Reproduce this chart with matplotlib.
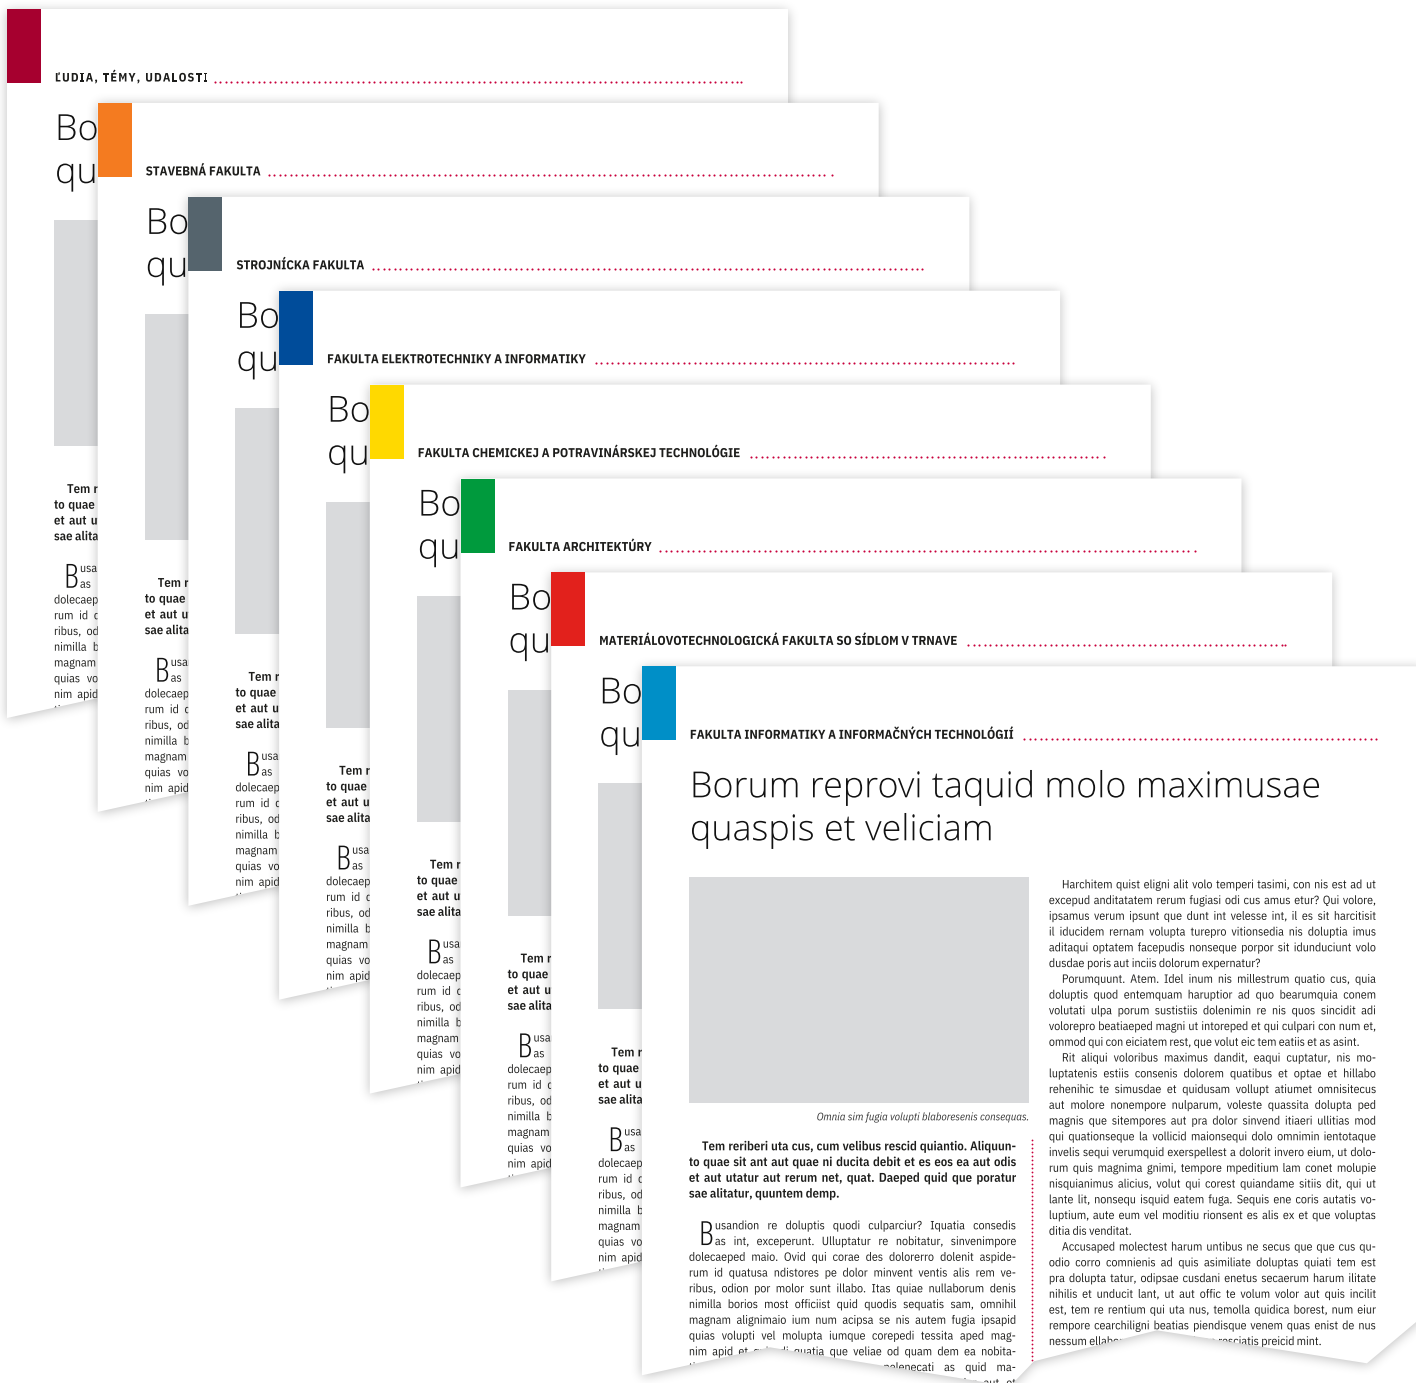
import numpy as np
import matplotlib
matplotlib.use("Agg")
import matplotlib.pyplot as plt
from matplotlib import patheffects as pe
from matplotlib.patches import Polygon, Rectangle
from matplotlib.font_manager import FontProperties
from matplotlib.path import Path

# rozmer obrazka v pixeloch
W, H = 1416, 1383

# farby a hlavicky jednotlivych fakult (od zadnej strany po prednu)
farby = ['#a6002f', '#f47b20', '#55646d', '#004c9a',
         '#ffd900', '#009a3d', '#e2211c', '#008fc7']
hlavicky = ['ĽUDIA, TÉMY, UDALOSTI',
            'STAVEBNÁ FAKULTA',
            'STROJNÍCKA FAKULTA',
            'FAKULTA ELEKTROTECHNIKY A INFORMATIKY',
            'FAKULTA CHEMICKEJ A POTRAVINÁRSKEJ TECHNOLÓGIE',
            'FAKULTA ARCHITEKTÚRY',
            'MATERIÁLOVOTECHNOLOGICKÁ FAKULTA SO SÍDLOM V TRNAVE',
            'FAKULTA INFORMATIKY A INFORMAČNÝCH TECHNOLÓGIÍ']
# prva hlavicka je trocha mensia a rozpalena
rozpal = [1.2, 0, 0, 0, 0, 0, 0, 0]
zmensenie = [0.95, 1, 1, 1, 1, 1, 1, 1]

titulok = ['Borum reprovi taquid molo maximusae',
           'quaspis et veliciam']
popis = 'Omnia sim fugia volupti blaboresenis consequas.'

uvod = ['Tem reriberi uta cus, cum velibus rescid quiantio. Aliquun-',
        'to quae sit ant aut quae ni ducita debit et es eos ea aut odis',
        'et aut utatur aut rerum net, quat. Daeped quid que poratur',
        'sae alitatur, quuntem demp.']

iniciala = 'B'
odsek = ['usandion re doluptis quodi culparciur? Iquatia consedis',
         'as int, exceperunt. Ulluptatur re nobitatur, sinvenimpore',
         'dolecaeped maio. Ovid qui corae des dolorerro dolenit aspide-',
         'rum id quatusa ndistores pe dolor minvent ventis alis rem ve-',
         'ribus, odion por molor sunt illabo. Itas quiae nullaborum denis',
         'nimilla borios most officiist quid quodis sequatis sam, omnihil',
         'magnam alignimaio ium num acipsa se nis autem fugia ipsapid',
         'quias volupti vel molupta iumque corepedi tessita aped mag-',
         'nim apid et qui odi quatia que veliae od quam dem ea nobita-',
         'tiatur sim quatur sae everi non pelenecati as quid ma-',
         'gnatur aut volupta dolorpor voluptia nis solupta dolor aut et']

prave = [['Harchitem quist eligni alit volo temperi tasimi, con nis est ad ut',
          'excepud anditatatem rerum fugiasi odi cus amus etur? Qui volore,',
          'ipsamus verum ipsunt que dunt int velesse int, il es sit harcitisit',
          'il iducidem rernam volupta turepro vitionsedia nis doluptia imus',
          'aditaqui optatem facepudis nonseque porpor sit idunduciunt volo',
          'dusdae poris aut inciis dolorum expernatur?'],
         ['Porumquunt. Atem. Idel inum nis millestrum quatio cus, quia',
          'doluptis quod entemquam haruptior ad quo bearumquia conem',
          'volutati ulpa porum sustistiis dolenimin re nis quos sincidit adi',
          'volorepro beatiaeped magni ut intoreped et qui culpari con num et,',
          'ommod qui con eiciatem rest, que volut eic tem eatiis et as asint.'],
         ['Rit aliqui voloribus maximus dandit, eaqui cuptatur, nis mo-',
          'luptatenis estiis consenis dolorem quatibus et optae et hillabo',
          'rehenihic te simusdae et quidusam vollupt atiumet omnisitecus',
          'aut molore nonempore nulparum, voleste quassita dolupta ped',
          'magnis que sitempores aut pra dolor sinvend itiaeri ullitias mod',
          'qui quationseque la vollicid maionsequi dolo omnimin ientotaque',
          'invelis sequi verumquid exerspellest a dolorit invero eium, ut dolo-',
          'rum quis magnima gnimi, tempore mpeditium lam conet molupie',
          'nisquianimus alicius, volut qui corest quiandame sitiis dit, qui ut',
          'lante lit, nonsequ isquid eatem fuga. Sequis ene coris autatis vo-',
          'luptium, aute eum vel moditiu rionsent es alis ex et que voluptas',
          'ditia dis venditat.'],
         ['Accusaped molectest harum untibus ne secus que que cus qu-',
          'odio corro comnienis ad quis asimiliate doluptas quiati tem est',
          'pra dolupta tatur, odipsae cusdani enetus secaerum harum ilitate',
          'nihilis et unducit lant, ut aut offic te volum volor aut quis incilit',
          'est, tem re rentium qui uta nus, temolla quidica borest, num eiur',
          'rempore cearchiligni beatias piendisque venem quas enist de nus',
          'nessum ellabor essequi officiti con resciatis preicid mint.']]

# geometria stran
x_start, y_start = 7, 9
krok_x, krok_y = 90.7, 93.9
sirka_strany = 781
# roztrhnuty spodny okraj (relativne k lavemu hornemu rohu strany)
trhlina = [(0, 709), (128, 681), (368, 720), (392, 695),
           (515, 664), (725, 697), (781, 650)]
riadok = 15.75
stlpec = 327

farba_textu = '#1d1d1b'
farba_bodky = '#c8003c'

plex = ['IBM Plex Sans Condensed', 'DejaVu Sans']
fp_text = FontProperties(family=plex, size=9)
fp_tucne = FontProperties(family=plex, size=9, weight=600)
fp_hlava = FontProperties(family=plex, size=10, weight='bold')
fp_titul = FontProperties(family=['Open Sans', 'DejaVu Sans'], size=30,
                          weight=300)
fp_init = FontProperties(family=['Open Sans', 'DejaVu Sans'], size=24,
                         weight=300, stretch='condensed')
fp_popis = FontProperties(family=plex, size=7, style='italic')

fig = plt.figure(figsize=(W / 100, H / 100), dpi=100)
ax = fig.add_axes([0, 0, 1, 1])
ax.axis('off')
rend = fig.canvas.get_renderer()
cesta = [pe.Normal()]   # text ako cesta, aby fungoval orez podla strany

_cache = {}
def sirka(s, fp):
    k = (s, id(fp), fp.get_size_in_points())
    if k not in _cache:
        _cache[k] = rend.get_text_width_height_descent(s, fp, ismath=False)[0]
    return _cache[k]

def medzera(fp):
    return sirka('n n', fp) - sirka('nn', fp)

# velkost pisma tak, aby najsirsi riadok sedel na sirku z predlohy
def prisposob(fp, texty, ciele, rezerva=1.0):
    m = max(sirka(t, fp) / c for t, c in zip(texty, ciele))
    fp.set_size(fp.get_size_in_points() * rezerva / m)

zarovnane = []
for par in prave:
    for k, t in enumerate(par[:-1]):
        zarovnane.append((t, stlpec - (13 if k == 0 else 0)))
for k, t in enumerate(odsek):
    zarovnane.append((t, stlpec - (26 if k < 2 else 0)))
prisposob(fp_text, [a for a, b in zarovnane], [b for a, b in zarovnane], 0.99)
prisposob(fp_tucne, uvod[:-1], [314, 327, 327], 0.99)
prisposob(fp_hlava, [hlavicky[-1]], [326])
prisposob(fp_titul, [titulok[0]], [631])
prisposob(fp_popis, [popis], [213])

tr_x = np.array([a for a, b in trhlina], dtype=float)
tr_y = np.array([b for a, b in trhlina], dtype=float)

# rozmazanie masky (box blur)
def rozmaz(a, r, os_):
    a = np.moveaxis(a, os_, 0)
    p = np.pad(a, ((r + 1, r), (0, 0)), mode='edge')
    c = np.cumsum(p, axis=0)
    out = (c[2 * r + 1:] - c[:-2 * r - 1]) / (2 * r + 1)
    return np.moveaxis(out, 0, os_)

def tien(body, z, m=26, r=5, sila=0.26):
    xl, xr = int(body[:, 0].min()) - m, int(body[:, 0].max()) + m
    yt, yb = int(body[:, 1].min()) - m, int(body[:, 1].max()) + m
    gx, gy = np.meshgrid(np.arange(xl, xr) + 0.5, np.arange(yt, yb) + 0.5 - 1.5)
    maska = Path(body).contains_points(np.c_[gx.ravel(), gy.ravel()])
    maska = maska.reshape(gx.shape).astype(np.float32)
    for _ in range(3):
        maska = rozmaz(maska, r, 0)
        maska = rozmaz(maska, r, 1)
    rgba = np.zeros(maska.shape + (4,), dtype=np.float32)
    rgba[..., 3] = maska * sila
    ax.imshow(rgba, extent=(xl, xr, yb, yt), origin='upper',
              interpolation='bilinear', aspect='auto', zorder=z)

def napis(x, y, s, fp, z, klip, **kw):
    t = ax.text(x, y, s, fontproperties=fp, va='baseline', zorder=z,
                path_effects=cesta, clip_on=True, **kw)
    t.set_clip_path(klip)
    return t

def slova(riadok_txt, x, y, w, fp, zarovnat, z, klip, hranica, x0, y0):
    ws = riadok_txt.split()
    dl = [sirka(s, fp) for s in ws]
    if zarovnat and len(ws) > 1:
        gap = (w - sum(dl)) / (len(ws) - 1)
    else:
        gap = medzera(fp)
    cx = x
    for s, d in zip(ws, dl):
        if cx >= hranica:
            break
        # slovo cele pod roztrhnutym okrajom sa nekresli
        okraj = y0 + np.interp(np.linspace(cx, cx + d, 8) - x0, tr_x, tr_y)
        if okraj.max() > y - 9:
            napis(cx, y, s, fp, z, klip, color=farba_textu, ha='left')
        cx += d + gap

def rozpalene(x, y, s, fp, track, z, klip):
    # pismena po jednom so zvacsenou medzerou
    ref = sirka('I', fp)
    for k, ch in enumerate(s):
        if ch == ' ':
            continue
        xk = x + sirka(s[:k] + 'I', fp) - ref + k * track
        napis(xk, y, ch, fp, z, klip, color=farba_textu, ha='left')
    return sirka(s, fp) + (len(s) - 1) * track

def bodky(x1, x2, y, z, klip, krok=5.5):
    xs = list(np.arange(x1, x2 - 3, krok)) + [x2]
    l, = ax.plot(xs, [y] * len(xs), ls='none', marker='o', ms=1.5,
                 mfc=farba_bodky, mec='none', zorder=z)
    l.set_clip_path(klip)

for i in range(len(farby)):
    x0 = x_start + krok_x * i
    y0 = y_start + krok_y * i
    z = 10 * i
    posledna = i == len(farby) - 1
    # co je napravo od dalsej strany, je zakryte
    hranica = W + 100 if posledna else x0 + krok_x
    body = np.array([(x0, y0), (x0 + sirka_strany, y0)] +
                    [(x0 + a, y0 + b) for a, b in trhlina[::-1]])
    tien(body, z)
    strana = Polygon(body, closed=True, fc='white', ec='none', zorder=z + 1)
    ax.add_patch(strana)

    # farebna zalozka
    ax.add_patch(Rectangle((x0, y0), 34, 74, fc=farby[i], ec='none',
                           zorder=z + 2))

    # hlavicka s bodkovanou ciarou
    if rozpal[i]:
        fp_h = fp_hlava.copy()
        fp_h.set_size(fp_hlava.get_size_in_points() * zmensenie[i])
        dlzka = rozpalene(x0 + 48, y0 + 72.5, hlavicky[i], fp_h, rozpal[i],
                          z + 3, strana)
    else:
        napis(x0 + 48, y0 + 72.5, hlavicky[i], fp_hlava, z + 3, strana,
              color=farba_textu, ha='left')
        dlzka = sirka(hlavicky[i], fp_hlava)
    bodky(x0 + 48 + dlzka + 7, x0 + 734, y0 + 72.5, z + 3, strana)

    # titulok (na zakrytych stranach len viditelny zaciatok)
    for k, t in enumerate(titulok):
        if not posledna:
            n = 1
            while n < len(t) and x0 + 48 + sirka(t[:n], fp_titul) < hranica:
                n += 1
            t = t[:n]
        napis(x0 + 48, y0 + 131 + 43 * k, t, fp_titul, z + 3, strana,
              color='#111111', ha='left')

    # obrazok a popis
    ax.add_patch(Rectangle((x0 + 47, y0 + 211), 340, 226, fc='#d9dadc',
                           ec='none', zorder=z + 2))
    if posledna:
        napis(x0 + 386, y0 + 454, popis, fp_popis, z + 3, strana,
              color='#333333', ha='right')

    # uvodny tucny odsek
    for k, t in enumerate(uvod):
        odsad = 13 if k == 0 else 0
        slova(t, x0 + 47 + odsad, y0 + 484 + riadok * k, stlpec - odsad,
              fp_tucne, k < len(uvod) - 1, z + 3, strana, hranica, x0, y0)

    # odsek s iniciálou
    napis(x0 + 57, y0 + 563 + riadok, iniciala, fp_init, z + 3, strana,
          color='#111111', ha='left')
    for k, t in enumerate(odsek):
        odsad = 26 if k < 2 else 0
        slova(t, x0 + 47 + odsad, y0 + 563 + riadok * k, stlpec - odsad,
              fp_text, True, z + 3, strana, hranica, x0, y0)

    if not posledna:
        continue

    # zvisla bodkovana ciara medzi stlpcami
    ys = np.arange(y0 + 474, y0 + 730, 4.0)
    vl, = ax.plot([x0 + 390] * len(ys), ys, ls='none', marker='o', ms=1.3,
                  mfc=farba_bodky, mec='none', zorder=z + 3)
    vl.set_clip_path(strana)

    # pravy stlpec
    n = 0
    for par in prave:
        for k, t in enumerate(par):
            odsad = 13 if k == 0 else 0
            slova(t, x0 + 407 + odsad, y0 + 222 + riadok * n, stlpec - odsad,
                  fp_text, k < len(par) - 1, z + 3, strana, hranica, x0, y0)
            n += 1

ax.set_xlim(0, W)
ax.set_ylim(H, 0)
fig.savefig('out.png', dpi=100, facecolor='white')
